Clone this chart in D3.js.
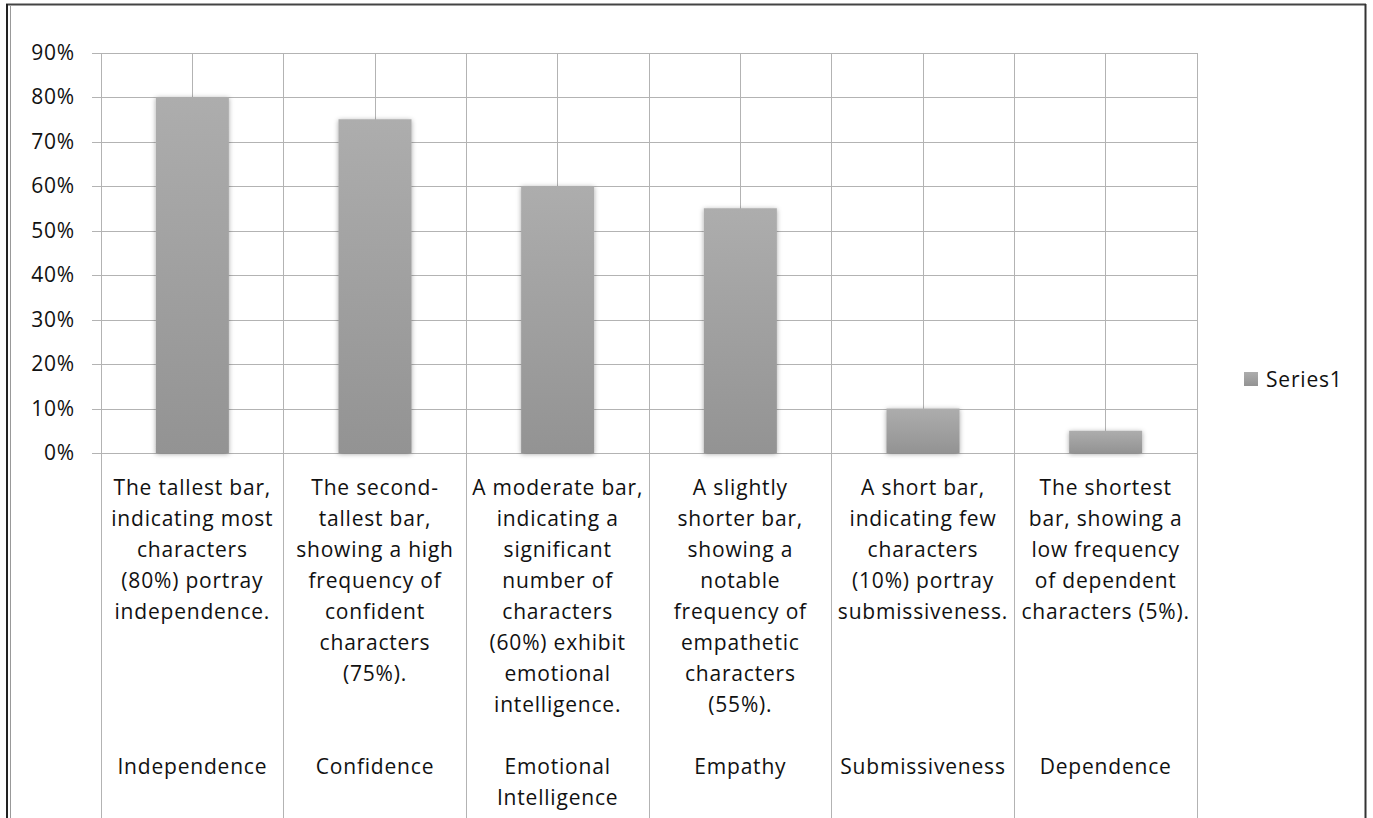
<!DOCTYPE html>
<html>
<head>
<meta charset="utf-8">
<script src="https://cdnjs.cloudflare.com/ajax/libs/d3/7.8.5/d3.min.js"></script>
<style>
  html, body { margin: 0; padding: 0; background: #fff; }
  svg { display: block; }
  text { font-family: "Open Sans", sans-serif; fill: #111; }
</style>
</head>
<body>
<div id="chart"></div>
<script>
var categories = ["Independence", "Confidence", "Emotional Intelligence", "Empathy", "Submissiveness", "Dependence"];
var values = [0.80, 0.75, 0.60, 0.55, 0.10, 0.05];
var descriptions = [
  ["The tallest bar,", "indicating most", "characters", "(80%) portray", "independence."],
  ["The second-", "tallest bar,", "showing a high", "frequency of", "confident", "characters", "(75%)."],
  ["A moderate bar,", "indicating a", "significant", "number of", "characters", "(60%) exhibit", "emotional", "intelligence."],
  ["A slightly", "shorter bar,", "showing a", "notable", "frequency of", "empathetic", "characters", "(55%)."],
  ["A short bar,", "indicating few", "characters", "(10%) portray", "submissiveness."],
  ["The shortest", "bar, showing a", "low frequency", "of dependent", "characters (5%)."]
];
var categoryLines = [["Independence"], ["Confidence"], ["Emotional", "Intelligence"], ["Empathy"], ["Submissiveness"], ["Dependence"]];
var yTicks = [0, 0.1, 0.2, 0.3, 0.4, 0.5, 0.6, 0.7, 0.8, 0.9];
var seriesName = "Series1";

var width = 1373, height = 818;
var plot = {left: 101, right: 1197, top: 52.5, bottom: 453};
var lineH = 31;
var fontSize = "21px", spacing = "0.8px";

var svg = d3.select("#chart").append("svg")
    .attr("width", width)
    .attr("height", height);

var defs = svg.append("defs");
var grad = defs.append("linearGradient")
    .attr("id", "barGrad")
    .attr("x1", 0).attr("y1", 0).attr("x2", 0).attr("y2", 1);
grad.append("stop").attr("offset", "0%").attr("stop-color", "#adadad");
grad.append("stop").attr("offset", "100%").attr("stop-color", "#939393");

var shadow = defs.append("filter")
    .attr("id", "soft")
    .attr("x", "-20%").attr("y", "-20%").attr("width", "140%").attr("height", "140%");
shadow.append("feDropShadow")
    .attr("dx", 0).attr("dy", 1)
    .attr("stdDeviation", 2.5)
    .attr("flood-color", "#000")
    .attr("flood-opacity", 0.35);

// outer frame
svg.append("line")
    .attr("x1", 6).attr("x2", 1366).attr("y1", 4.5).attr("y2", 4.5)
    .style("stroke", "#444").style("stroke-width", 2);
svg.append("line")
    .attr("x1", 7).attr("x2", 7).attr("y1", 4).attr("y2", height)
    .style("stroke", "#222").style("stroke-width", 2);
svg.append("line")
    .attr("x1", 10.5).attr("x2", 10.5).attr("y1", 6).attr("y2", height)
    .style("stroke", "#999").style("stroke-width", 1);
svg.append("line")
    .attr("x1", 1365.5).attr("x2", 1365.5).attr("y1", 4).attr("y2", height)
    .style("stroke", "#333").style("stroke-width", 2);

var x = d3.scaleBand()
    .domain(categories)
    .range([plot.left, plot.right])
    .padding(0);

var y = d3.scaleLinear()
    .domain([0, 0.9])
    .range([plot.bottom, plot.top]);

var bw = x.bandwidth();

// horizontal gridlines + tick labels (axis hung on the right edge so ticks reach past the left)
var yAxis = d3.axisLeft(y)
    .tickValues(yTicks)
    .tickFormat(d3.format(".0%"))
    .tickSizeInner(plot.right - 92)
    .tickSizeOuter(0)
    .tickPadding(17);

var gy = svg.append("g")
    .attr("transform", "translate(" + plot.right + ",0)")
    .call(yAxis);
gy.select(".domain").remove();
gy.selectAll(".tick line")
    .style("stroke", "#b3b3b3")
    .style("shape-rendering", "crispEdges");
gy.selectAll(".tick text")
    .style("font-family", "'Open Sans', sans-serif")
    .style("font-size", fontSize)
    .style("letter-spacing", spacing)
    .style("fill", "#111");

// vertical lines at category centres (inside plot only)
svg.append("g").selectAll("line")
    .data(categories)
    .enter().append("line")
    .attr("x1", function(d){ return x(d) + bw / 2; })
    .attr("x2", function(d){ return x(d) + bw / 2; })
    .attr("y1", plot.top)
    .attr("y2", plot.bottom)
    .style("stroke", "#b3b3b3")
    .style("shape-rendering", "crispEdges");

// category boundaries run down through the label area
var bounds = categories.map(function(d){ return x(d); }).concat([plot.right]);
svg.append("g").selectAll("line")
    .data(bounds)
    .enter().append("line")
    .attr("x1", function(d){ return d; })
    .attr("x2", function(d){ return d; })
    .attr("y1", plot.top)
    .attr("y2", height)
    .style("stroke", "#b3b3b3")
    .style("shape-rendering", "crispEdges");

// bars
svg.append("g").selectAll("rect")
    .data(values)
    .enter().append("rect")
    .attr("x", function(d, i){ return x(categories[i]) + bw * 0.3; })
    .attr("width", bw * 0.4)
    .attr("y", function(d){ return y(d); })
    .attr("height", function(d){ return y(0) - y(d); })
    .attr("fill", "url(#barGrad)")
    .attr("filter", "url(#soft)");

// description labels (first level)
var desc = svg.append("g").selectAll("text")
    .data(descriptions)
    .enter().append("text")
    .attr("text-anchor", "middle")
    .style("font-size", fontSize)
    .style("letter-spacing", spacing)
    .attr("transform", function(d, i){ return "translate(" + (x(categories[i]) + bw / 2) + ",0)"; });
desc.selectAll("tspan")
    .data(function(d){ return d; })
    .enter().append("tspan")
    .attr("x", 0)
    .attr("y", function(d, j){ return 495 + j * lineH; })
    .text(function(d){ return d; });

// category names (second level)
var cats = svg.append("g").selectAll("text")
    .data(categoryLines)
    .enter().append("text")
    .attr("text-anchor", "middle")
    .style("font-size", fontSize)
    .style("letter-spacing", spacing)
    .attr("transform", function(d, i){ return "translate(" + (x(categories[i]) + bw / 2) + ",0)"; });
cats.selectAll("tspan")
    .data(function(d){ return d; })
    .enter().append("tspan")
    .attr("x", 0)
    .attr("y", function(d, j){ return 774 + j * lineH; })
    .text(function(d){ return d; });

// legend
var legend = svg.append("g").attr("transform", "translate(1244,372)");
legend.append("rect")
    .attr("width", 14).attr("height", 14)
    .attr("fill", "url(#barGrad)");
legend.append("text")
    .attr("x", 22).attr("y", 15)
    .style("font-size", fontSize)
    .style("letter-spacing", spacing)
    .text(seriesName);
</script>
</body>
</html>
